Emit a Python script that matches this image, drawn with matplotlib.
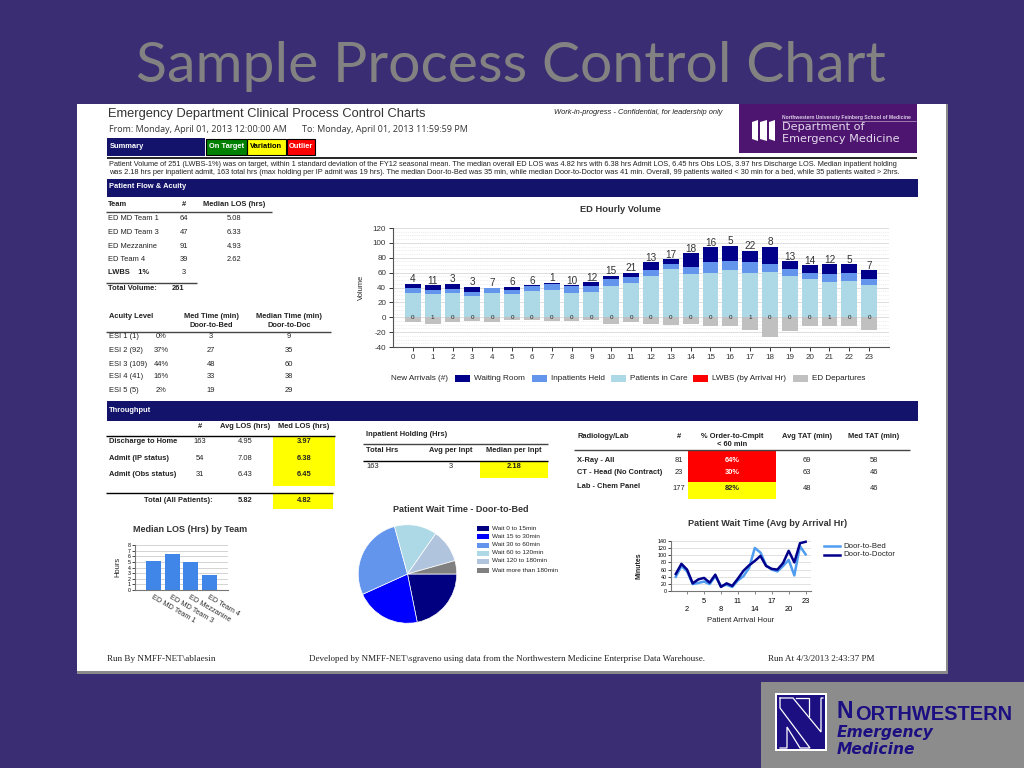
import matplotlib
matplotlib.use("Agg")
import matplotlib.pyplot as plt
import numpy as np
from matplotlib.patches import Rectangle, Polygon

W, H = 1024, 768
plt.rcParams["font.family"] = ["Liberation Sans", "DejaVu Sans"]
plt.rcParams["axes.unicode_minus"] = False

# ED hourly volume
hours = list(range(24))
in_care = [32, 31, 32, 29, 32, 31, 35, 37, 32, 34, 42, 46, 56, 65, 58, 60, 64, 60, 61, 56, 52, 48, 49, 43]
held = [7, 5, 6, 5, 7, 5, 7, 8, 10, 8, 9, 8, 8, 6, 10, 14, 11, 14, 11, 9, 8, 10, 11, 8]
waiting = [6, 7, 7, 7, 1, 5, 1, 1, 1, 5, 5, 6, 10, 7, 18, 20, 21, 15, 23, 10, 10, 13, 11, 12]
departures = [-7, -9, -7, -5, -6, -4, -4, -5, -5, -4, -9, -6, -9, -10, -9, -12, -12, -17, -26, -19, -12, -12, -12, -17]
arrivals = [4, 11, 3, 3, 7, 6, 6, 1, 10, 12, 15, 21, 13, 17, 18, 16, 5, 22, 8, 13, 14, 12, 5, 7]
lwbs = [0, 1, 0, 0, 0, 0, 0, 0, 0, 0, 0, 0, 0, 0, 0, 0, 0, 1, 0, 0, 0, 1, 0, 0]

# team table / median LOS chart
teams = ["ED MD Team 1", "ED MD Team 3", "ED Mezzanine", "ED Team 4"]
team_n = [64, 47, 91, 39]
team_los = [5.08, 6.33, 4.93, 2.62]

# acuity table
esi_names = ["ESI 1 (1)", "ESI 2 (92)", "ESI 3 (109)", "ESI 4 (41)", "ESI 5 (5)"]
esi_pct = ["0%", "37%", "44%", "16%", "2%"]
esi_bed = [3, 27, 48, 33, 19]
esi_doc = [9, 35, 60, 38, 29]

# throughput table
tp_names = ["Discharge to Home", "Admit (IP status)", "Admit (Obs status)"]
tp_n = [163, 54, 31]
tp_avg = [4.95, 7.08, 6.43]
tp_med = [3.97, 6.38, 6.45]

# radiology table
rad_names = ["X-Ray - All", "CT - Head (No Contract)", "Lab - Chem Panel"]
rad_n = [81, 23, 177]
rad_pct = ["64%", "30%", "82%"]
rad_avg = [69, 63, 48]
rad_med = [58, 46, 46]

# wait time pie
wait_labels = ["Wait 0 to 15min", "Wait 15 to 30min", "Wait 30 to 60min", "Wait 60 to 120min",
               "Wait 120 to 180min", "Wait more than 180min"]
wait_counts = [50, 49, 63, 32, 25, 10]
wait_colors = ["#000080", "#0000ff", "#6495ed", "#add8e6", "#b0c4de", "#808080"]

# wait time by arrival hour
door_bed = [40, 70, 55, 20, 23, 27, 20, 42, 15, 18, 12, 30, 42, 65, 120, 107, 72, 60, 55, 70, 87, 44, 125, 102]
door_doc = [48, 76, 60, 22, 33, 37, 24, 46, 12, 22, 15, 35, 57, 72, 84, 98, 70, 62, 60, 78, 112, 80, 133, 137]

fig = plt.figure(figsize=(W / 100, H / 100), dpi=100, facecolor="#3b2d73")
page = fig.add_axes([0, 0, 1, 1])
page.set_xlim(0, W)
page.set_ylim(H, 0)
page.axis("off")


def box(x0, y0, x1, y1, color, z=1):
    page.add_patch(Rectangle((x0, y0), x1 - x0, y1 - y0, fc=color, ec="none", zorder=z))


def txt(x, y, s, px=8.5, color="#222222", ha="left", weight="normal", **kw):
    page.text(x, y, s, fontsize=px * 0.72, color=color, ha=ha, va="center", weight=weight, zorder=5, **kw)


def rule(x0, x1, y, color="#444444", lw=1.0):
    page.plot([x0, x1], [y, y], color=color, lw=lw, zorder=4, solid_capstyle="butt")


def inset(x0, y0, x1, y1):
    ax = fig.add_axes([x0 / W, 1 - y1 / H, (x1 - x0) / W, (y1 - y0) / H])
    ax.patch.set_alpha(0)
    return ax


# slide title and report page
txt(511, 67, "Sample Process Control Chart", px=57.2, color="#828282", ha="center", family="Lato")
box(77, 104, 948, 674, "#8a8a8a")
box(77, 104, 946, 671, "white")

txt(108, 114, "Emergency Department Clinical Process Control Charts", px=12.9, color="#333333")
txt(109, 129.5, "From: Monday, April 01, 2013 12:00:00 AM", px=8.95, color="#333333", family="Open Sans")
txt(302, 129.5, "To: Monday, April 01, 2013 11:59:59 PM", px=8.95, color="#333333", family="Open Sans")
txt(638, 112, "Work-in-progress - Confidential, for leadership only", px=7.45, ha="center", style="italic")

# purple department block
box(739, 104, 917, 153, "#4d1470")
for bx0, bx1 in [(752, 758), (760, 767), (769, 775)]:
    page.add_patch(Polygon([(bx0, 122), (bx1, 120), (bx1, 141), (bx0, 139)], fc="white", ec="none", zorder=3))
txt(782, 117.5, "Northwestern University Feinberg School of Medicine", px=5.05, color="#ddd0e6", weight="bold")
rule(782, 916, 120.5, color="#b9a4c8", lw=0.5)
txt(782, 127, "Department of", px=11.2, color="#e4daec", family="DejaVu Sans")
txt(782, 139.5, "Emergency Medicine", px=11.2, color="#e4daec", family="DejaVu Sans")

# summary legend
box(107, 138, 205, 156, "#13136b")
txt(110, 146, "Summary", px=7.5, color="white", weight="bold")
for x0, x1, c, s, tc in [(206, 247, "#008000", "On Target", "white"), (247, 286, "#ffff00", "Variation", "black"),
                         (287, 315, "#ff0000", "Outlier", "white")]:
    box(x0, 139, x1, 155, c)
    page.add_patch(Rectangle((x0, 139), x1 - x0, 16, fc="none", ec="black", lw=0.8, zorder=2))
    txt((x0 + x1) / 2, 146, s, px=7.5, color=tc, ha="center", weight="bold")
rule(107, 917, 158, color="black", lw=1.2)
txt(109, 165, "Patient Volume of 251 (LWBS-1%) was on target, within 1 standard deviation of the FY12 seasonal mean. "
    "The median overall ED LOS was 4.82 hrs with 6.38 hrs Admit LOS, 6.45 hrs Obs LOS, 3.97 hrs Discharge LOS. "
    "Median inpatient holding", px=7.39)
txt(109, 173, "was 2.18 hrs per inpatient admit, 163 total hrs (max holding per IP admit was 19 hrs). "
    "The median Door-to-Bed was 35 min, while median Door-to-Doctor was 41 min. "
    "Overall, 99 patients waited < 30 min for a bed, while 35 patients waited > 2hrs.", px=7.39)

box(107, 179, 918, 197, "#13136b")
txt(109, 187, "Patient Flow & Acuity", px=7.5, color="white", weight="bold")
box(107, 401, 918, 421, "#13136b")
txt(109, 410, "Throughput", px=7.5, color="white", weight="bold")

# team table
txt(108, 205, "Team", px=7.5, weight="bold")
txt(184, 205, "#", px=7.5, ha="center", weight="bold")
txt(234, 205, "Median LOS (hrs)", px=7.5, ha="center", weight="bold")
rule(106, 272, 212)
for y, name, n, los in zip([218.5, 232, 246, 259.5], teams, team_n, team_los):
    txt(108, y, name, px=7.5)
    txt(184, y, str(n), px=7.5, ha="center")
    txt(234, y, f"{los:.2f}", px=7.5, ha="center")
txt(108, 273, "LWBS    1%", px=7.5, weight="bold")
txt(184, 273, "3", px=7.5, ha="center")
rule(106, 197, 282.5)
txt(108, 289, "Total Volume:", px=7.5, weight="bold")
txt(178, 289, "261", px=7.5, ha="center", weight="bold")

# acuity table
txt(109, 316, "Acuity Level", px=7.5, weight="bold")
txt(211, 316, "Med Time (min)", px=7.5, ha="center", weight="bold")
txt(211, 325.7, "Door-to-Bed", px=7.5, ha="center", weight="bold")
txt(289, 316, "Median Time (min)", px=7.5, ha="center", weight="bold")
txt(289, 325.7, "Door-to-Doc", px=7.5, ha="center", weight="bold")
rule(106, 331, 332)
for y, name, pct, bed, doc in zip([337, 351, 365, 377, 391], esi_names, esi_pct, esi_bed, esi_doc):
    txt(109, y, name, px=7.5)
    txt(161, y, pct, px=7.5, ha="center")
    txt(211, y, str(bed), px=7.5, ha="center")
    txt(289, y, str(doc), px=7.5, ha="center")

# throughput table
txt(200, 426, "#", px=7.5, ha="center", weight="bold")
txt(245, 426, "Avg LOS (hrs)", px=7.5, ha="center", weight="bold")
txt(304, 426, "Med LOS (hrs)", px=7.5, ha="center", weight="bold")
rule(106, 335, 436, color="black")
box(273, 436, 335, 486, "#ffff00")
for y, name, n, a, m in zip([441.7, 458.7, 474.7], tp_names, tp_n, tp_avg, tp_med):
    txt(109, y, name, px=7.5, weight="bold")
    txt(200, y, str(n), px=7.5, ha="center")
    txt(245, y, f"{a:.2f}", px=7.5, ha="center")
    txt(304, y, f"{m:.2f}", px=7.5, ha="center", weight="bold")
rule(106, 333, 493, color="black")
box(273, 493, 333, 509, "#ffff00")
txt(213, 500.7, "Total (All Patients):", px=7.5, ha="right", weight="bold")
txt(245, 500.7, "5.82", px=7.5, ha="center", weight="bold")
txt(304, 500.7, "4.82", px=7.5, ha="center", weight="bold")

# inpatient holding table
txt(366, 434, "Inpatient Holding (Hrs)", px=7.5, weight="bold")
rule(363, 548, 444)
txt(366, 450, "Total Hrs", px=7.5, weight="bold")
txt(451, 450, "Avg per Inpt", px=7.5, ha="center", weight="bold")
txt(514, 450, "Median per Inpt", px=7.5, ha="center", weight="bold")
rule(363, 548, 461, color="black")
box(480, 462, 548, 478, "#ffff00")
txt(366, 467, "163", px=7.5)
txt(451, 467, "3", px=7.5, ha="center")
txt(514, 467, "2.18", px=7.5, ha="center", weight="bold")

# radiology table
txt(577, 436, "Radiology/Lab", px=7.5, weight="bold")
txt(679, 436, "#", px=7.5, ha="center", weight="bold")
txt(732, 436, "% Order-to-Cmplt", px=7.5, ha="center", weight="bold")
txt(732, 444, "< 60 min", px=7.5, ha="center", weight="bold")
txt(807, 436, "Avg TAT (min)", px=7.5, ha="center", weight="bold")
txt(874, 436, "Med TAT (min)", px=7.5, ha="center", weight="bold")
rule(574, 910, 450)
box(688, 450, 776, 482, "#ff0000")
box(688, 482, 776, 499, "#ffff00")
for y, name, n, pct, a, m, tc in zip([461, 473, 488], rad_names, rad_n, rad_pct, rad_avg, rad_med,
                                     ["white", "white", "#222222"]):
    txt(577, y - 1, name, px=7.5, weight="bold")
    txt(679, y, str(n), px=7.5, ha="center")
    txt(732, y, pct, px=7.5, ha="center", color=tc, weight="bold")
    txt(807, y, str(a), px=7.5, ha="center")
    txt(874, y, str(m), px=7.5, ha="center")

# ED hourly volume chart
txt(620, 210, "ED Hourly Volume", px=9.3, ha="center", weight="bold", color="#333333")
ax = inset(393, 228, 889, 347)
ax.bar(hours, in_care, 0.8, color="#add8e6")
ax.bar(hours, held, 0.8, bottom=in_care, color="#6495ed")
ax.bar(hours, waiting, 0.8, bottom=np.add(in_care, held), color="#00008b")
ax.bar(hours, departures, 0.8, color="#c0c0c0")
ax.bar(hours, lwbs, 0.8, color="#ff0000", bottom=0, alpha=0.6)
tops = np.add(np.add(in_care, held), waiting)
for h, top, a, l in zip(hours, tops, arrivals, lwbs):
    ax.text(h, top - 0.5, str(a), ha="center", va="bottom", fontsize=7.2, color="#333333")
    ax.text(h, 0, str(l), ha="center", va="center", fontsize=4.5, color="#222222")
ax.set_xlim(-1, 24)
ax.set_ylim(-40, 120)
ax.set_yticks(range(-40, 121, 20))
ax.set_yticks(range(-40, 121, 5), minor=True)
ax.set_xticks(hours)
ax.tick_params(axis="both", labelsize=5.8, length=3, width=0.7, colors="#333333", pad=2)
ax.tick_params(axis="y", which="minor", length=0)
ax.grid(axis="y", which="major", color="#dddddd", lw=0.7)
ax.grid(axis="y", which="minor", color="#dddddd", lw=0.5, ls=":")
ax.set_axisbelow(True)
for s in ["top", "right"]:
    ax.spines[s].set_visible(False)
for s in ["left", "bottom"]:
    ax.spines[s].set_color("#555555")
txt(361, 287, "Volume", px=7.5, ha="center", rotation=90)
txt(391, 378.5, "New Arrivals (#)", px=8.2)
for x0, c, s in [(455, "#00008b", "Waiting Room"), (532, "#6495ed", "Inpatients Held"),
                 (611, "#add8e6", "Patients in Care"), (693, "#ff0000", "LWBS (by Arrival Hr)"),
                 (793, "#c0c0c0", "ED Departures")]:
    box(x0, 374.5, x0 + 15, 382, c)
    txt(x0 + 19, 378.5, s, px=8.2)

# median LOS bars
txt(190, 529, "Median LOS (Hrs) by Team", px=9.05, ha="center", weight="bold", color="#333333")
ax = inset(135, 545, 228, 590)
ax.bar(range(4), team_los, 0.8, color="#3f86e8")
ax.set_xlim(-1, 4)
ax.set_ylim(0, 8)
ax.set_yticks(range(9))
ax.set_xticks([])
ax.tick_params(axis="y", labelsize=3.8, length=2, width=0.5, pad=1)
ax.grid(axis="y", color="#cccccc", lw=0.6)
ax.set_axisbelow(True)
for s in ["top", "right"]:
    ax.spines[s].set_visible(False)
for s in ["left", "bottom"]:
    ax.spines[s].set_color("#777777")
for i, name in enumerate(teams):
    ax.annotate(name, (i, 0), xytext=(-1.5, -5), textcoords="offset points", fontsize=5.3, rotation=-30,
                rotation_mode="anchor", ha="left", va="center", color="#333333")
txt(118, 567, "Hours", px=7.5, ha="center", rotation=90)

# door-to-bed pie
txt(461, 510, "Patient Wait Time - Door-to-Bed", px=8.95, ha="center", weight="bold", color="#333333")
ax = inset(357, 524, 458, 624)
ax.pie(wait_counts, colors=wait_colors, startangle=0, counterclock=False, radius=0.985,
       wedgeprops={"edgecolor": "white", "linewidth": 0.5})
ax.set_xlim(-1, 1)
ax.set_ylim(-1, 1)
for y, c, s in zip([528, 536, 545, 553, 561, 570], wait_colors, wait_labels):
    box(477, y - 2.5, 489, y + 2.5, c)
    txt(492, y, s, px=6.4)

# wait time lines
txt(768, 524, "Patient Wait Time (Avg by Arrival Hr)", px=9.1, ha="center", weight="bold", color="#333333")
ax = inset(670.7, 540.7, 810.7, 591.3)
ax.plot(hours, door_bed, color="#4f9cf0", lw=1.8, clip_on=False)
ax.plot(hours, door_doc, color="#00008b", lw=1.8, clip_on=False)
ax.set_xlim(-0.9, 23.9)
ax.set_ylim(0, 140)
ax.set_yticks(range(0, 141, 20))
ax.set_xticks(hours[2::3])
ax.set_xticklabels([str(h) if i % 2 else "\n" + str(h) for i, h in enumerate(hours[2::3])])
ax.tick_params(axis="y", labelsize=3.9, length=2, width=0.5, pad=1)
ax.tick_params(axis="x", labelsize=5.4, length=2, width=0.5, pad=3, color="#555555")
ax.grid(axis="y", color="#dddddd", lw=0.6)
ax.set_axisbelow(True)
for s in ["top", "right"]:
    ax.spines[s].set_visible(False)
for s in ["left", "bottom"]:
    ax.spines[s].set_color("#777777")
txt(741, 621, "Patient Arrival Hour", px=7.8, ha="center")
txt(639, 566, "Minutes", px=7, ha="center", rotation=90, weight="bold")
for y, c, s in [(546, "#4f9cf0", "Door-to-Bed"), (555, "#00008b", "Door-to-Doctor")]:
    page.plot([824, 840], [y, y], color=c, lw=1.8, zorder=4)
    txt(843, y, s, px=7.8)

# footer
txt(107, 659, "Run By NMFF-NET\\ablaesin", px=9.2, family="Liberation Serif")
txt(309, 659, "Developed by NMFF-NET\\sgraveno using data from the Northwestern Medicine Enterprise Data Warehouse.",
    px=9.07, family="Liberation Serif")
txt(768, 659, "Run At 4/3/2013 2:43:37 PM", px=9.2, family="Liberation Serif")

# Northwestern logo block
box(761, 682, 1024, 768, "#8c8c8c")
box(775, 693, 827, 751, "white")
box(777, 695, 825, 749, "#1c0f82")
for xs, ys in [([780, 793, 821, 821, 823], [698, 698, 732, 698, 698]),
               ([780, 780, 810, 800, 787, 787, 780], [698, 708, 748, 748, 727, 748, 748]),
               ([796, 809, 809], [698, 698, 716])]:
    page.plot(xs, ys, color="white", lw=0.9, zorder=3, solid_joinstyle="miter")
txt(837, 711, "N", px=23, color="#1c0f82", weight="bold")
txt(855, 714, "ORTHWESTERN", px=20, color="#1c0f82", weight="bold")
txt(837, 733, "Emergency", px=15.5, color="#1c0f82", weight="bold", style="italic", family="DejaVu Sans")
txt(837, 749, "Medicine", px=15.5, color="#1c0f82", weight="bold", style="italic", family="DejaVu Sans")

fig.savefig("out.png", dpi=100, facecolor=fig.get_facecolor())
